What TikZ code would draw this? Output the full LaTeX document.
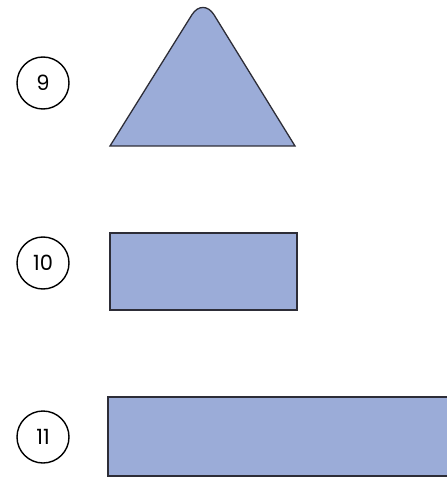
\documentclass[tikz,border=0pt]{standalone}
\usepackage{fontspec}
\setmainfont{Poppins}
\definecolor{shapefill}{RGB}{155,172,216}
\definecolor{shapeedge}{RGB}{45,45,55}
\begin{document}
\begin{tikzpicture}[x=1pt,y=-1pt,
  numcirc/.style={circle,draw=black,line width=1.4pt,minimum size=52pt,inner sep=0pt,font=\fontsize{21}{21}\selectfont},
  shapebox/.style={fill=shapefill,draw=shapeedge,line width=1.3pt}]
\useasboundingbox (0,0) rectangle (446,478);
\node[numcirc] (n9) at (43,83) {9};
\node[numcirc] (n10) at (43,263) {10};
\node[numcirc] (n11) at (43,437) {11};
\draw[shapebox] (110,146) [rounded corners=21pt]-- (203,-3) [sharp corners]-- (295,146) -- cycle;
\draw[shapebox] (110,233) rectangle (297,310);
\draw[shapebox] (108,397) rectangle (448,476);
\end{tikzpicture}
\end{document}
